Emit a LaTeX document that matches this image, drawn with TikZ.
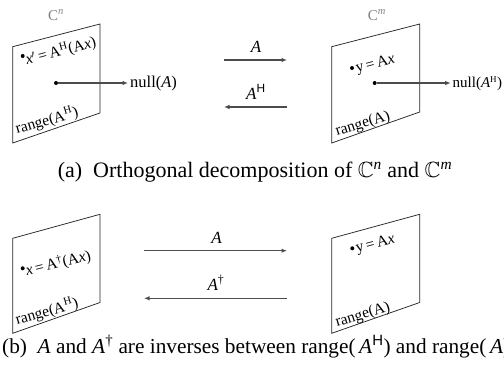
\documentclass[tikz,border=0pt]{standalone}
\usepackage{amssymb}
\usepackage{fontspec}
\setmainfont{Liberation Serif}
\setsansfont{Liberation Sans}
\usetikzlibrary{arrows.meta}
\begin{document}
\begin{tikzpicture}[x=1pt,y=-1pt,
  panel/.style={draw=black!85, line width=0.75pt},
  pt/.style={circle, fill=black, inner sep=0pt, minimum size=4pt},
  conn/.style={draw=black!70, line width=1.1pt, -{Latex[length=5.5pt,width=4.5pt]}},
  lbl/.style={font=\fontsize{15.5}{15.5}\selectfont, inner sep=0pt},
  nlbl/.style={font=\fontsize{16.5}{16.5}\selectfont, inner sep=0pt, anchor=west},
  spacelbl/.style={font=\fontsize{15}{15}\selectfont, text=black!50, inner sep=0pt},
  alab/.style={font=\fontsize{17}{17}\selectfont, inner sep=0pt, anchor=base},
  captext/.style={font=\fontsize{22}{22}\selectfont, inner sep=0pt, anchor=base}]
\useasboundingbox (0,0) rectangle (504,378);

% ---------- (a) ----------
\draw[panel] (12.7,46.7) -- (100,24) -- (100,113) -- (12.7,143) -- cycle;
\draw[panel] (331.7,46.7) -- (419.7,24) -- (419.7,112) -- (331.7,143) -- cycle;

\node[spacelbl] (cn) at (56,15) {C\textsuperscript{\textit{n}}};
\node[spacelbl] (cm) at (377,15) {C\textsuperscript{\textit{m}}};

\node[pt] (xp) at (22.7,56) {};
\node[lbl, anchor=base west, rotate=15] (xpl) at (27,65) {\textit{x}$'$\,=\,A\textsuperscript{H}(A\textit{x})};
\node[lbl, anchor=base west, rotate=16] (rl1) at (17,134) {range(A\textsuperscript{H})};

\node[pt] (c1) at (56,83) {};
\coordinate (n1) at (128,83);
\draw[conn] (c1) -- (n1);
\node[nlbl] (null1) at (130,84) {null(\textit{A})};

\node[pt] (y1) at (352,68) {};
\node[lbl, anchor=base west, rotate=15] (y1l) at (357,73) {y\,=\,A\textit{x}};
\node[lbl, anchor=base west, rotate=17] (rr1) at (337,136) {range(A)};

\node[pt] (c2) at (374.7,83) {};
\coordinate (n2) at (450.7,83);
\draw[conn] (c2) -- (n2);
\node[nlbl, font=\fontsize{15}{15}\selectfont] (null2) at (452.5,84) {null(\textit{A}\textsuperscript{\fontsize{9}{9}\selectfont H})};

\coordinate (a1s) at (224,60);
\coordinate (a1e) at (287,60);
\draw[conn] (a1s) -- (a1e);
\node[alab] (a1l) at (256,52) {\textit{A}};
\coordinate (h1s) at (287,107);
\coordinate (h1e) at (224,107);
\draw[conn] (h1s) -- (h1e);
\node[alab] (h1l) at (256,99) {\textit{A}\textsuperscript{\textsf{H}}};

\node[captext] (capa) at (255,177) {(a)\ \ Orthogonal decomposition of $\mathbb{C}$\textsuperscript{\textit{n}} and $\mathbb{C}$\textsuperscript{\textit{m}}};

% ---------- (b) ----------
\draw[panel] (12.7,238.3) -- (100,214.3) -- (100,302.5) -- (12.7,333.3) -- cycle;
\draw[panel] (331.7,238.3) -- (419.7,214.3) -- (419.7,302.5) -- (331.7,333.3) -- cycle;

\node[pt] (x2) at (22.7,268.3) {};
\node[lbl, anchor=base west, rotate=14] (x2l) at (27,276) {\textit{x}\,=\,A\textsuperscript{\dag}(A\textit{x})};
\node[lbl, anchor=base west, rotate=16] (rl2) at (17,325) {range(A\textsuperscript{H})};

\node[pt] (y2) at (352.3,248.3) {};
\node[lbl, anchor=base west, rotate=15] (y2l) at (357,253) {y\,=\,A\textit{x}};
\node[lbl, anchor=base west, rotate=17] (rr2) at (337,327) {range(A)};

\coordinate (a2s) at (144,250.7);
\coordinate (a2e) at (287,250.7);
\draw[conn] (a2s) -- (a2e);
\node[alab] (a2l) at (216.5,243) {\textit{A}};
\coordinate (d2s) at (287,298.3);
\coordinate (d2e) at (144,298.3);
\draw[conn] (d2s) -- (d2e);
\node[alab] (d2l) at (216,290) {\textit{A}\textsuperscript{\dag}};

\node[captext, anchor=base west, font=\fontsize{21.3}{21.3}\selectfont] (capb) at (2,353) {(b)\ \ \textit{A} and \textit{A}\textsuperscript{\dag} are inverses between range(\,\textit{A}\textsuperscript{\textsf{H}}) and range(\,\textit{A})};
\end{tikzpicture}
\end{document}
